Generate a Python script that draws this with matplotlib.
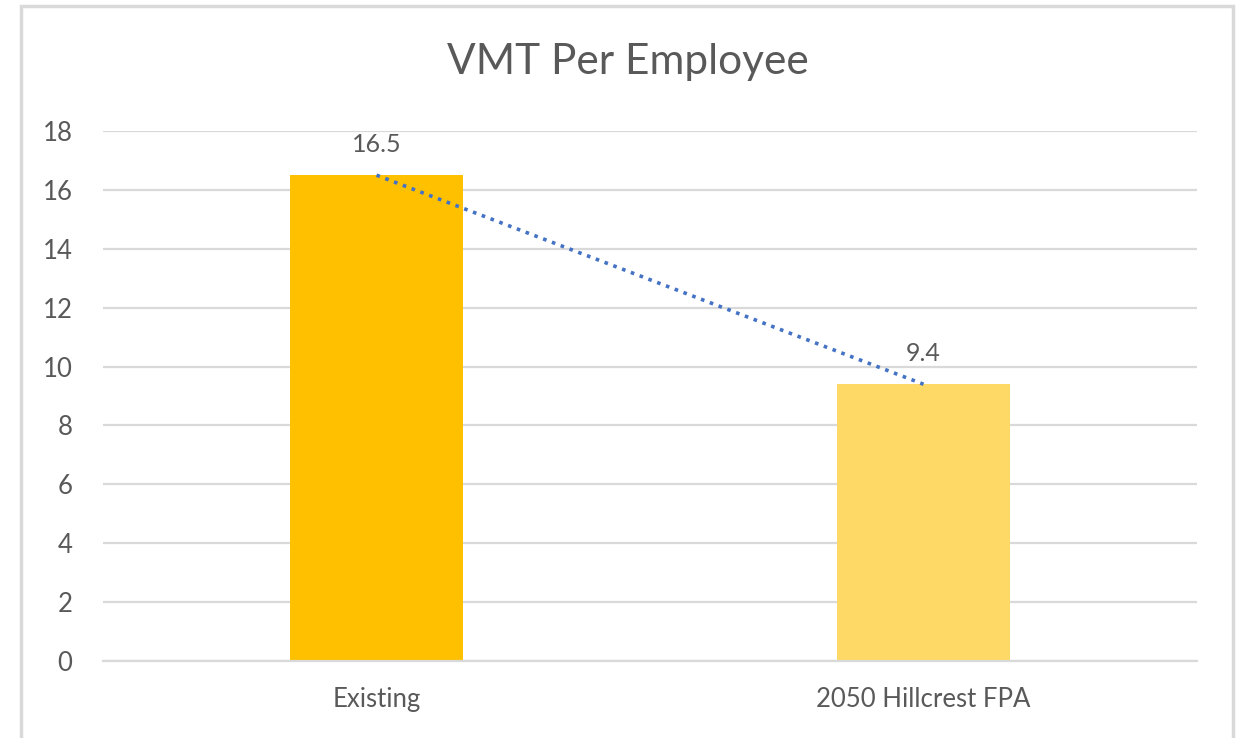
import numpy as np
from matplotlib import pyplot as plt
from matplotlib.patches import Rectangle

categories = ['Existing', '2050 Hillcrest FPA']
vmt = [16.5, 9.4]
labels = ['16.5', '9.4']
bar_colors = ['#FFC000', '#FFD966']

plt.rcParams['font.family'] = ['Lato', 'DejaVu Sans']
text_col = '#595959'
grid_col = '#D9D9D9'

fig = plt.figure(figsize=(12.4, 7.38), dpi=100)
ax = fig.add_axes([103 / 1240, 1 - 661 / 738, 1094 / 1240, 530 / 738])

x = np.arange(len(categories))
ax.bar(x, vmt, width=0.315, color=bar_colors, zorder=2)
ax.plot(x, vmt, linestyle=(0, (1, 1.6)), color='#4472C4', lw=2.6, zorder=3)

for xi, v, lab in zip(x, vmt, labels):
    ax.annotate(lab, (xi, v), xytext=(0, 14), textcoords='offset points',
                ha='center', va='bottom', fontsize=18, color=text_col)

ax.set_xlim(-0.5, 1.5)
ax.set_ylim(0, 18)
ax.set_yticks(range(0, 19, 2))
ax.set_xticks(x)
ax.set_xticklabels(categories)
ax.yaxis.grid(True, color=grid_col, lw=1.6, zorder=0)
ax.set_axisbelow(True)
for s in ['top', 'right', 'left']:
    ax.spines[s].set_visible(False)
ax.spines['bottom'].set_color(grid_col)
ax.spines['bottom'].set_linewidth(1.6)
ax.tick_params(axis='both', length=0, labelsize=18.5, colors=text_col)
ax.tick_params(axis='y', pad=22)
ax.tick_params(axis='x', pad=19)

fig.text(0.506, 1 - 62 / 738, 'VMT Per Employee', ha='center', va='center',
         fontsize=30.5, color=text_col)

fig.patches.append(Rectangle((21 / 1240, -0.05), 1212 / 1240, 1.05 - 6 / 738,
                             transform=fig.transFigure, fill=False,
                             edgecolor='#D9D9D9', lw=2.5))

fig.savefig('out.png', dpi=100)
